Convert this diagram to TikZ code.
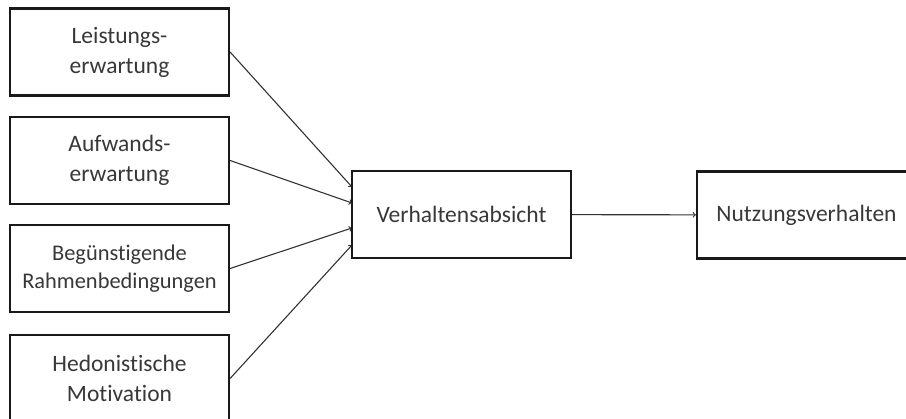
\documentclass[tikz,border=0pt]{standalone}
\usepackage{fontspec}
\setmainfont{Carlito}[Ligatures={NoCommon}]
\usepackage{xcolor}
\usepackage{tikz}
\usetikzlibrary{arrows,backgrounds,positioning}
\pgfdeclarelayer{edgelayer}
\pgfdeclarelayer{nodelayer}
\pgfsetlayers{background,edgelayer,nodelayer,main}
\definecolor{boxtext}{rgb}{0.22,0.22,0.22}
\definecolor{edgegray}{rgb}{0.2,0.2,0.2}
\tikzstyle{none}=[inner sep=0mm]
\tikzstyle{box}=[draw=black!90,line width=2.2pt,fill=white,minimum width=219pt,minimum height=87pt,inner sep=0pt,align=center,text=boxtext,font=\fontsize{23.5}{30}\selectfont]
\tikzstyle{small box}=[box,font=\fontsize{22.4}{28}\selectfont]
\tikzstyle{diredge}=[->,draw=edgegray,line width=1.1pt]

\begin{document}
\begin{tikzpicture}[x=1pt,y=-1pt]
	\useasboundingbox (0,0) rectangle (906,419);
	\begin{pgfonlayer}{nodelayer}
		\node [style=box] (le) at (119.5, 52) {Leistungs-\\erwartung};
		\node [style=box] (ae) at (119.5, 160.5) {Aufwands-\\erwartung};
		\node [style=small box] (br) at (119.5, 268.5) {Begünstigende\\Rahmenbedingungen};
		\node [style=box] (hm) at (119.5, 378.5) {Hedonistische\\Motivation};
		\node [style=box] (va) at (461.5, 214.5) {Verhaltensabsicht};
		\node [style=box] (nv) at (806.5, 215) {Nutzungsverhalten};
		\coordinate (va1) at (352, 187);
		\coordinate (va2) at (352, 203);
		\coordinate (va3) at (352, 228);
		\coordinate (va4) at (352, 245);
	\end{pgfonlayer}
	\begin{pgfonlayer}{edgelayer}
		\draw [style=diredge] (le.east) to (va1);
		\draw [style=diredge] (ae.east) to (va2);
		\draw [style=diredge] (br.east) to (va3);
		\draw [style=diredge] (hm.east) to (va4);
		\draw [style=diredge] (va) to (nv);
	\end{pgfonlayer}
\end{tikzpicture}
\end{document}
